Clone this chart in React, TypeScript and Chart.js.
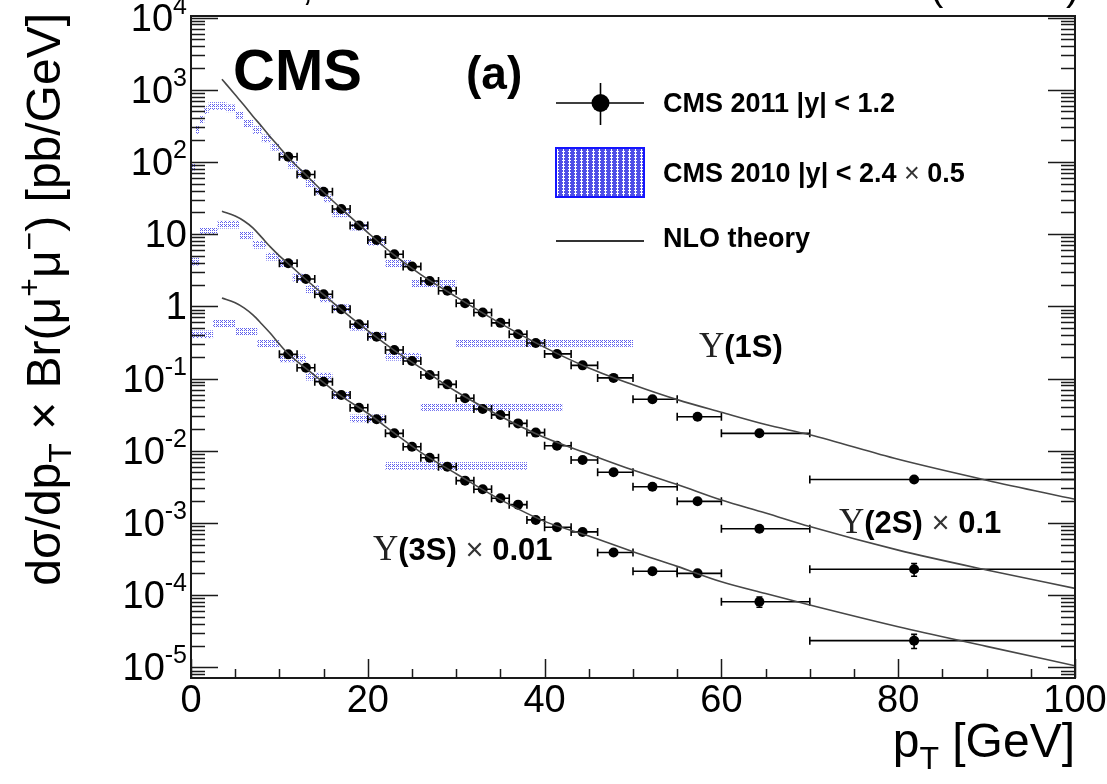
import React, { useEffect, useRef } from "react";
import { Chart, registerables } from "chart.js";

Chart.register(...registerables);

const SANS = '"Liberation Sans", Arial, Helvetica, sans-serif';
const SERIF = '"Liberation Serif", "DejaVu Serif", serif';

// ---------------- CMS 2011 |y| < 1.2 (points) ----------------
const binLow = [10, 12, 14, 16, 18, 20, 22, 24, 26, 28, 30, 32, 34, 36, 38, 40, 43, 46, 50, 55, 60, 70];
const binHigh = [12, 14, 16, 18, 20, 22, 24, 26, 28, 30, 32, 34, 36, 38, 40, 43, 46, 50, 55, 60, 70, 100];
const ptMean = [11, 13, 15, 17, 19, 21, 23, 25, 27, 29, 31, 33, 35, 37, 39, 41.4, 44.3, 47.8, 52.2, 57.3, 64.3, 81.8];
const y1S = [118, 67, 38.6, 22.3, 13.2, 8.3, 5.25, 3.55, 2.24, 1.64, 1.1, 0.82, 0.59, 0.41, 0.31, 0.219, 0.152, 0.102, 0.0515, 0.0296, 0.0174, 0.004];
const y2S = [3.94, 2.39, 1.47, 0.91, 0.563, 0.379, 0.248, 0.175, 0.112, 0.083, 0.0532, 0.0379, 0.0313, 0.0239, 0.0178, 0.0117, 0.00743, 0.00502, 0.00317, 0.00199, 0.00083, 0.000228];
const y3S = [0.216, 0.141, 0.0904, 0.0592, 0.0394, 0.0272, 0.0174, 0.01135, 0.008, 0.006, 0.00385, 0.00292, 0.00219, 0.00179, 0.0011, 0.00087, 0.00075, 0.00039, 0.000214, 0.0002, 0.000081, 0.0000234];
const relErr1S = [0.03, 0.03, 0.03, 0.03, 0.03, 0.03, 0.03, 0.03, 0.03, 0.03, 0.03, 0.03, 0.03, 0.03, 0.03, 0.03, 0.03, 0.03, 0.04, 0.04, 0.05, 0.07];
const relErr2S = [0.03, 0.03, 0.03, 0.03, 0.03, 0.03, 0.03, 0.03, 0.03, 0.03, 0.03, 0.03, 0.03, 0.03, 0.04, 0.04, 0.04, 0.05, 0.05, 0.06, 0.07, 0.2];
const relErr3S = [0.03, 0.03, 0.03, 0.03, 0.03, 0.03, 0.03, 0.03, 0.04, 0.04, 0.04, 0.04, 0.05, 0.05, 0.05, 0.06, 0.06, 0.08, 0.08, 0.1, 0.16, 0.22];

// ---------------- NLO theory ----------------
const theoryPt = [3.5, 5, 6, 7, 8, 9, 10, 11, 13, 15, 17, 20, 23, 26, 30, 35, 40, 45, 50, 55, 60, 65, 70, 80, 90, 100];
const theory1S = [1400, 850, 610, 430, 310, 220, 160, 115, 66, 38, 22.5, 10.5, 5.1, 2.75, 1.35, 0.58, 0.27, 0.14, 0.082, 0.051, 0.034, 0.023, 0.0166, 0.0076, 0.0039, 0.00212];
const theory2S = [20.7, 17.8, 15.2, 12.2, 9.0, 6.6, 5.0, 3.9, 2.35, 1.45, 0.9, 0.46, 0.245, 0.14, 0.066, 0.03, 0.0152, 0.009, 0.0054, 0.0034, 0.00207, 0.00137, 0.00089, 0.00042, 0.000223, 0.000124];
const theory3S = [1.3, 1.12, 0.95, 0.76, 0.57, 0.42, 0.3, 0.22, 0.138, 0.088, 0.057, 0.033, 0.0175, 0.0095, 0.0048, 0.0021, 0.00105, 0.00066, 0.0004, 0.00025, 0.000153, 0.000105, 0.000073, 0.0000365, 0.0000195, 0.0000105];

// ---------------- CMS 2010 |y| < 2.4 x 0.5 (hatched boxes) ----------------
const box1SLow = [0, 0.5, 1, 1.5, 2, 3, 4, 5, 6, 7, 8, 9, 10, 11, 12, 13, 14, 15, 16, 18, 20, 22, 25, 30];
const box1SHigh = [0.5, 1, 1.5, 2, 3, 4, 5, 6, 7, 8, 9, 10, 11, 12, 13, 14, 15, 16, 18, 20, 22, 25, 30, 50];
const box1SVal = [86, 277, 381, 523, 594, 594, 552, 447, 343, 277, 212, 162, 125, 91, 69.5, 50, 40, 31.3, 19.4, 12.7, 7.85, 3.95, 2.08, 0.31];
const box2SLow = [0, 1, 3, 5.5, 7, 8.5, 10, 11.5, 13, 14.5, 16, 18, 20, 22, 26];
const box2SHigh = [1, 3, 5.5, 7, 8.5, 10, 11.5, 13, 14.5, 16, 18, 20, 22, 26, 42];
const box2SVal = [4.15, 10.8, 13.5, 9.7, 7.1, 4.86, 3.9, 2.5, 1.72, 1.29, 0.94, 0.52, 0.39, 0.2, 0.0403];
const box3SLow = [0, 2.5, 5, 7.5, 10, 13, 16, 18, 22];
const box3SHigh = [2.5, 5, 7.5, 10, 13, 16, 18, 22, 38];
const box3SVal = [0.41, 0.58, 0.445, 0.307, 0.19, 0.106, 0.059, 0.028, 0.00614];
const boxRelErr = 0.13;

// ---------------- axes ----------------
const xTickValues = [0, 20, 40, 60, 80, 100];
const yTickExponents = [4, 3, 2, 1, 0, -1, -2, -3, -4, -5];

type Seg = { t: string; f: string; dy?: number; c?: string };

function segsWidth(ctx: CanvasRenderingContext2D, segs: Seg[]) {
  let w = 0;
  for (const s of segs) {
    ctx.font = s.f;
    w += ctx.measureText(s.t).width;
  }
  return w;
}

function drawSegs(ctx: CanvasRenderingContext2D, segs: Seg[], x: number, y: number, align: "left" | "right" | "center" = "left") {
  const w = segsWidth(ctx, segs);
  let cx = align === "right" ? x - w : align === "center" ? x - w / 2 : x;
  ctx.textAlign = "left";
  ctx.textBaseline = "alphabetic";
  for (const s of segs) {
    ctx.font = s.f;
    ctx.fillStyle = s.c || "#000";
    ctx.fillText(s.t, cx, y + (s.dy || 0));
    cx += ctx.measureText(s.t).width;
  }
}

export default function App() {
  const ref = useRef<HTMLCanvasElement>(null);

  useEffect(() => {
    const canvas = ref.current!;
    const ctx0 = canvas.getContext("2d")!;

    const pc = document.createElement("canvas");
    pc.width = 4;
    pc.height = 4;
    const p = pc.getContext("2d")!;
    p.fillStyle = "rgba(75,75,235,0.9)";
    p.fillRect(0, 0, 1, 1);
    p.fillRect(2, 0, 1, 1);
    p.fillRect(1, 1, 1, 1);
    p.fillRect(0, 2, 1, 1);
    p.fillRect(2, 2, 1, 1);
    const hatch = ctx0.createPattern(pc, "repeat")!;

    const pc2 = document.createElement("canvas");
    pc2.width = 6;
    pc2.height = 3;
    const p2 = pc2.getContext("2d")!;
    p2.fillStyle = "#ffffff";
    p2.fillRect(0, 0, 6, 3);
    p2.fillStyle = "rgba(70,70,230,0.95)";
    p2.fillRect(0, 0, 5, 1);
    p2.fillRect(1, 1, 3, 1);
    p2.fillRect(0, 2, 5, 1);
    const legendHatch = ctx0.createPattern(pc2, "repeat")!;

    const series = [
      { v: y1S, e: relErr1S },
      { v: y2S, e: relErr2S },
      { v: y3S, e: relErr3S },
    ];
    const boxes = [
      { lo: box1SLow, hi: box1SHigh, v: box1SVal },
      { lo: box2SLow, hi: box2SHigh, v: box2SVal },
      { lo: box3SLow, hi: box3SHigh, v: box3SVal },
    ];

    const decor = {
      id: "cmsDecor",
      beforeDatasetsDraw(chart: any) {
        const { ctx, chartArea: a, scales } = chart;
        const x = scales.x, y = scales.y;
        ctx.save();
        ctx.beginPath();
        ctx.rect(a.left, a.top, a.right - a.left, a.bottom - a.top);
        ctx.clip();
        ctx.fillStyle = hatch;
        for (const b of boxes) {
          for (let i = 0; i < b.v.length; i++) {
            const x0 = x.getPixelForValue(b.lo[i]);
            const x1 = x.getPixelForValue(b.hi[i]);
            const y0 = y.getPixelForValue(b.v[i] * (1 + boxRelErr));
            const y1 = y.getPixelForValue(b.v[i] / (1 + boxRelErr));
            ctx.fillRect(x0, y0, x1 - x0, y1 - y0);
          }
        }
        ctx.strokeStyle = "#000";
        ctx.lineWidth = 1.6;
        for (const s of series) {
          for (let i = 0; i < s.v.length; i++) {
            const px = x.getPixelForValue(ptMean[i]);
            const py = y.getPixelForValue(s.v[i]);
            const xl = x.getPixelForValue(binLow[i]);
            const xh = x.getPixelForValue(binHigh[i]);
            ctx.beginPath();
            ctx.moveTo(xl, py);
            ctx.lineTo(xh, py);
            ctx.moveTo(xl, py - 4);
            ctx.lineTo(xl, py + 4);
            ctx.moveTo(xh, py - 4);
            ctx.lineTo(xh, py + 4);
            const yt = y.getPixelForValue(s.v[i] * (1 + s.e[i]));
            const yb = y.getPixelForValue(s.v[i] * (1 - s.e[i]));
            if (yb - yt > 9) {
              ctx.moveTo(px, yt);
              ctx.lineTo(px, yb);
              ctx.moveTo(px - 3, yt);
              ctx.lineTo(px + 3, yt);
              ctx.moveTo(px - 3, yb);
              ctx.lineTo(px + 3, yb);
            }
            ctx.stroke();
          }
        }
        ctx.restore();
      },
      afterDraw(chart: any) {
        const { ctx, chartArea: a, scales } = chart;
        const x = scales.x, y = scales.y;
        ctx.save();
        ctx.strokeStyle = "#1a1a1a";
        ctx.lineWidth = 2;
        ctx.strokeRect(a.left, a.top, a.right - a.left, a.bottom - a.top);
        ctx.lineWidth = 1.5;
        ctx.beginPath();
        for (let e = -6; e <= 4; e++) {
          for (let k = 1; k <= 9; k++) {
            const v = k * Math.pow(10, e);
            if (v < y.min || v > y.max) continue;
            const py = Math.round(y.getPixelForValue(v)) + 0.5;
            const len = k === 1 ? 27 : 14;
            ctx.moveTo(a.left, py);
            ctx.lineTo(a.left + len, py);
            ctx.moveTo(a.right, py);
            ctx.lineTo(a.right - len, py);
          }
        }
        for (let v = 0; v <= 100; v += 5) {
          const px = Math.round(x.getPixelForValue(v)) + 0.5;
          const len = v % 20 === 0 ? 19 : 9;
          ctx.moveTo(px, a.bottom);
          ctx.lineTo(px, a.bottom - len);
        }
        ctx.stroke();

        const F38 = `38px ${SANS}`;
        const F25 = `25px ${SANS}`;
        for (const e of yTickExponents) {
          const py = y.getPixelForValue(Math.pow(10, e));
          let segs: Seg[];
          if (e === 0) segs = [{ t: "1", f: F38 }];
          else if (e === 1) segs = [{ t: "10", f: F38 }];
          else segs = [{ t: "10", f: F38 }, { t: String(e), f: F25, dy: -17 }];
          drawSegs(ctx, segs, 187, py + 13, "right");
        }
        ctx.fillStyle = "#000";
        ctx.font = F38;
        ctx.textAlign = "center";
        ctx.textBaseline = "alphabetic";
        for (const v of xTickValues) {
          ctx.fillText(String(v), x.getPixelForValue(v), 712);
        }

        const F48 = `48px ${SANS}`;
        const F32 = `32px ${SANS}`;
        drawSegs(ctx, [{ t: "p", f: F48 }, { t: "T", f: F32, dy: 12 }, { t: " [GeV]", f: F48 }], 1075, 757, "right");
        ctx.save();
        ctx.translate(60, 13);
        ctx.rotate(-Math.PI / 2);
        drawSegs(
          ctx,
          [
            { t: "dσ/dp", f: F48 },
            { t: "T", f: F32, dy: 11 },
            { t: " × Br(μ", f: F48 },
            { t: "+", f: F32, dy: -20 },
            { t: "μ", f: F48 },
            { t: "−", f: F32, dy: -20 },
            { t: ") [pb/GeV]", f: F48 },
          ],
          0,
          0,
          "right"
        );
        ctx.restore();

        ctx.fillStyle = "#000";
        ctx.font = `40px ${SANS}`;
        ctx.textAlign = "left";
        ctx.fillText(",", 302, 0);
        ctx.fillText("(", 930, 0);
        ctx.fillText(")", 1066, 0);

        ctx.fillStyle = "#000";
        ctx.font = `bold 58px ${SANS}`;
        ctx.fillText("CMS", 233, 90);
        ctx.font = `bold 46px ${SANS}`;
        ctx.fillText("(a)", 466, 89);

        ctx.strokeStyle = "#000";
        ctx.lineWidth = 1.6;
        ctx.beginPath();
        ctx.moveTo(556, 103);
        ctx.lineTo(644, 103);
        ctx.moveTo(600.5, 83);
        ctx.lineTo(600.5, 125);
        ctx.stroke();
        ctx.beginPath();
        ctx.arc(600.5, 103, 9, 0, Math.PI * 2);
        ctx.fillStyle = "#000";
        ctx.fill();
        ctx.fillStyle = legendHatch;
        ctx.fillRect(556, 148, 88, 49);
        ctx.strokeStyle = "#1414ff";
        ctx.lineWidth = 2;
        ctx.strokeRect(556, 148, 88, 49);
        ctx.strokeStyle = "#333";
        ctx.lineWidth = 1.8;
        ctx.beginPath();
        ctx.moveTo(556, 241);
        ctx.lineTo(644, 241);
        ctx.stroke();
        const FB27 = `bold 27px ${SANS}`;
        const FN27 = `27px ${SANS}`;
        drawSegs(ctx, [{ t: "CMS 2011 |y| < 1.2", f: FB27 }], 663, 112);
        drawSegs(ctx, [{ t: "CMS 2010 |y| < 2.4 ", f: FB27 }, { t: "×", f: FN27, c: "#333" }, { t: " 0.5", f: FB27 }], 663, 182);
        drawSegs(ctx, [{ t: "NLO theory", f: FB27 }], 663, 247);

        const FU = `35px ${SERIF}`;
        const FB30 = `bold 31px ${SANS}`;
        const FN30 = `31px ${SANS}`;
        drawSegs(ctx, [{ t: "Υ", f: FU, c: "#222" }, { t: "(1S)", f: FB30 }], 699, 357);
        drawSegs(ctx, [{ t: "Υ", f: FU, c: "#222" }, { t: "(2S) ", f: FB30 }, { t: "×", f: FN30, c: "#333" }, { t: " 0.1", f: FB30 }], 839, 533);
        drawSegs(ctx, [{ t: "Υ", f: FU, c: "#222" }, { t: "(3S) ", f: FB30 }, { t: "×", f: FN30, c: "#333" }, { t: " 0.01", f: FB30 }], 373, 560);
        ctx.restore();
      },
    };

    const theoryDs = (vals: number[]) => ({
      type: "line" as const,
      data: theoryPt.map((xv, i) => ({ x: xv, y: vals[i] })),
      borderColor: "#474747",
      borderWidth: 1.6,
      pointRadius: 0,
      fill: false,
      cubicInterpolationMode: "monotone" as const,
    });
    const pointDs = (vals: number[]) => ({
      type: "scatter" as const,
      data: ptMean.map((xv, i) => ({ x: xv, y: vals[i] })),
      pointRadius: 5,
      pointBackgroundColor: "#000",
      pointBorderColor: "#000",
      pointBorderWidth: 0,
      showLine: false,
    });

    const chart = new Chart(canvas, {
      type: "scatter",
      data: {
        datasets: [
          theoryDs(theory1S),
          theoryDs(theory2S),
          theoryDs(theory3S),
          pointDs(y1S),
          pointDs(y2S),
          pointDs(y3S),
        ] as any,
      },
      options: {
        animation: false,
        responsive: false,
        devicePixelRatio: 1,
        events: [],
        layout: { padding: { left: 191, right: 32, top: 16, bottom: 106 } },
        scales: {
          x: { type: "linear", min: 0, max: 100, display: false },
          y: { type: "logarithmic", min: 7.11e-6, max: 1.049e4, display: false },
        },
        plugins: { legend: { display: false }, tooltip: { enabled: false } },
      },
      plugins: [decor],
    });
    return () => chart.destroy();
  }, []);

  return (
    <div style={{ position: "absolute", left: 0, top: 0, width: 1107, height: 784, background: "#fff" }}>
      <canvas ref={ref} width={1107} height={784} style={{ display: "block", width: 1107, height: 784 }} />
    </div>
  );
}
